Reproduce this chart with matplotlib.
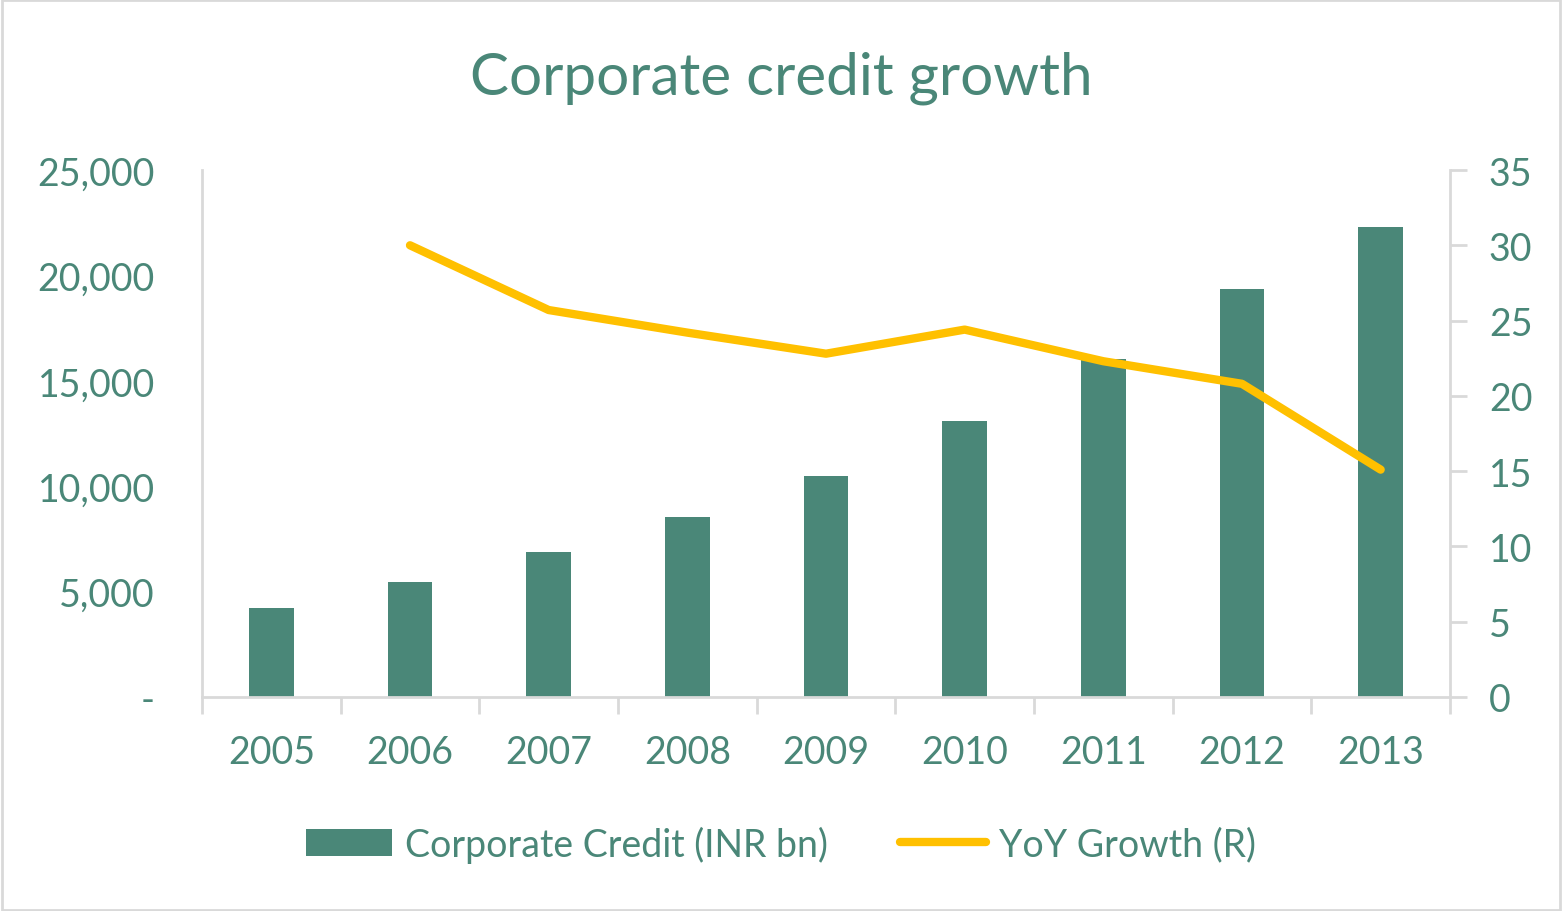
import matplotlib.pyplot as plt
from matplotlib.ticker import FuncFormatter, MultipleLocator, FixedLocator
import numpy as np

plt.rcParams['font.family'] = ['Lato', 'DejaVu Sans']

years = ["2005", "2006", "2007", "2008", "2009", "2010", "2011", "2012", "2013"]
credit = [4200, 5450, 6880, 8540, 10480, 13090, 16030, 19350, 22300]
growth = [None, 30.0, 25.7, 24.2, 22.8, 24.4, 22.3, 20.8, 15.1]

teal = "#4A8778"
gold = "#FFC000"
grid_col = "#D9D9D9"

fig = plt.figure(figsize=(15.62, 9.12), dpi=100)
ax = fig.add_axes([202 / 1562, 1 - 698 / 912, (1450 - 202) / 1562, (698 - 171) / 912])
ax2 = ax.twinx()

x = np.arange(len(years))
ax.bar(x, credit, width=0.32, color=teal, label="Corporate Credit (INR bn)", zorder=2)
gx = [i for i, g in enumerate(growth) if g is not None]
gy = [g for g in growth if g is not None]
ax2.plot(gx, gy, color=gold, lw=6, solid_capstyle="round", label="YoY Growth (R)")

ax.set_xlim(-0.5, len(years) - 0.5)
ax.set_ylim(0, 25000)
ax2.set_ylim(0, 35)
ax.yaxis.set_major_locator(MultipleLocator(5000))
ax2.yaxis.set_major_locator(MultipleLocator(5))
ax.yaxis.set_major_formatter(FuncFormatter(lambda v, p: "-" if v == 0 else f"{v:,.0f}"))

ax.set_xticks(x)
ax.set_xticklabels(years)
ax.xaxis.set_minor_locator(FixedLocator(np.arange(-0.5, len(years), 1)))
ax.tick_params(axis="x", which="major", length=0, pad=27, labelsize=27, labelcolor=teal)
ax.tick_params(axis="x", which="minor", length=12, width=2, color=grid_col, direction="out")
ax.tick_params(axis="y", length=0, pad=34, labelsize=27, labelcolor=teal)
ax2.tick_params(axis="y", length=12, width=2, color=grid_col, pad=16, labelsize=27, labelcolor=teal)

for a in (ax, ax2):
    a.spines["top"].set_visible(False)
    for s in ("left", "right", "bottom"):
        a.spines[s].set_color(grid_col)
        a.spines[s].set_linewidth(2)
ax.spines["right"].set_visible(False)
ax2.spines["left"].set_visible(False)
ax2.spines["bottom"].set_visible(False)

fig.text(0.5, 1 - 78 / 912, "Corporate credit growth", ha="center", va="center",
         fontsize=42, color=teal)

h1, l1 = ax.get_legend_handles_labels()
h2, l2 = ax2.get_legend_handles_labels()
fig.legend(h1 + h2, l1 + l2, loc="center", bbox_to_anchor=(0.5, 1 - 845 / 912), ncol=2,
           frameon=False, fontsize=27, labelcolor=teal, handlelength=2.3,
           handleheight=0.7, columnspacing=1.9, handletextpad=0.35)

fig.patches.append(plt.Rectangle((0.001, 0.001), 0.998, 0.998, transform=fig.transFigure,
                                 fill=False, edgecolor=grid_col, lw=2))

fig.savefig("out.png", dpi=100)
